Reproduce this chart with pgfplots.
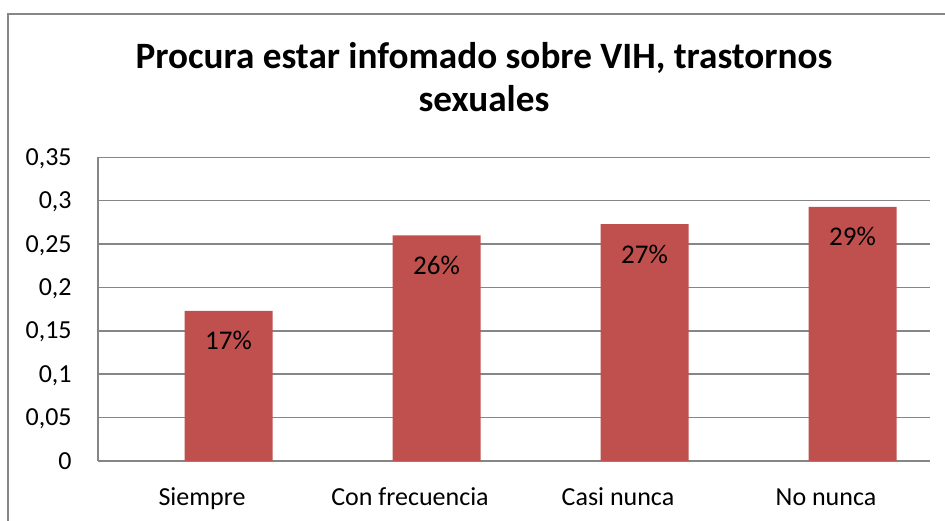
\documentclass[border=0pt]{standalone}
\usepackage{fontspec}
\setmainfont{Carlito}
\usepackage{pgfplots}
\pgfplotsset{compat=1.18}
\definecolor{barred}{HTML}{C0504D}
\definecolor{gridgray}{HTML}{868686}
\definecolor{framegray}{HTML}{878787}
\begin{document}
\begin{tikzpicture}
\useasboundingbox (0,0) rectangle (472.5bp,260.5bp);
% chart frame (cut off at right and bottom)
\draw[framegray, line width=1.2bp] (3.9bp,0) -- (3.9bp,253.6bp) -- (472.5bp,253.6bp);
% title
\node[anchor=base, font=\bfseries\fontsize{18.6bp}{22bp}\selectfont] at (242bp,226bp) {Procura estar infomado sobre VIH, trastornos};
\node[anchor=base, font=\bfseries\fontsize{18.6bp}{22bp}\selectfont] at (242bp,204.5bp) {sexuales};
\begin{axis}[
  at={(49bp,30bp)}, anchor=south west,
  width=416bp, height=151.85bp, scale only axis,
  ymin=0, ymax=0.35, ytick={0,0.05,...,0.35},
  xmin=-0.5, xmax=3.5,
  xtick={0,1,2,3},
  xticklabels={Siempre, Con frecuencia, Casi nunca, No nunca},
  axis x line*=bottom, axis y line*=left,
  axis line style={gridgray, line width=0.75bp},
  ymajorgrids=true, grid style={gridgray, line width=0.75bp},
  major tick length=0,
  scaled y ticks=false,
  yticklabel style={/pgf/number format/fixed, /pgf/number format/use comma,
    /pgf/number format/precision=2, /pgf/number format/assume math mode=true,
    font=\fontsize{13bp}{15bp}\selectfont, inner sep=0pt, anchor=base east,
    xshift=-13bp, yshift=-4bp},
  xticklabel style={font=\fontsize{13bp}{15bp}\selectfont, anchor=base, yshift=-22bp, inner sep=0pt},
  ybar, bar width=44bp, bar shift=13.25bp,
  nodes near coords, point meta=explicit symbolic,
  every node near coord/.append style={font=\fontsize{13.5bp}{15bp}\selectfont, anchor=base, yshift=-19.5bp, inner sep=0pt, text=black},
]
\addplot[fill=barred, draw=none] coordinates {
  (0,0.173) [17\%]
  (1,0.260) [26\%]
  (2,0.273) [27\%]
  (3,0.293) [29\%]
};
\end{axis}
\end{tikzpicture}
\end{document}
